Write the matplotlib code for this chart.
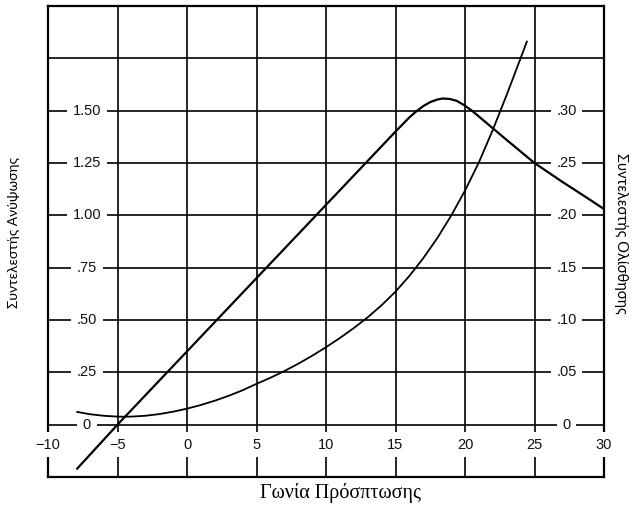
import matplotlib
matplotlib.use("Agg")
import matplotlib.pyplot as plt

# Συντελεστής ανύψωσης (αριστερός άξονας) συναρτήσει της γωνίας πρόσπτωσης
lift_angle = [-7.9, -5.0, 0.0, 5.0, 10.0, 15.0, 16.0, 16.5, 17.0, 17.5, 18.0, 18.4,
              18.9, 19.4, 19.9, 20.5, 21.0, 21.5, 22.0, 23.0, 24.0, 25.0, 26.0,
              27.0, 28.0, 29.0, 30.0]
lift_coef = [-0.21, 0.0, 0.35, 0.70, 1.05, 1.40, 1.468, 1.497, 1.522, 1.541, 1.553,
             1.558, 1.556, 1.547, 1.528, 1.50, 1.472, 1.444, 1.416, 1.36, 1.305,
             1.25, 1.205, 1.16, 1.117, 1.074, 1.03]

# Συντελεστής ολίσθησης (δεξιός άξονας)
drag_angle = [-7.9, -7.0, -6.0, -5.0, -4.5, -4.0, -3.0, -2.0, -1.0, 0.0, 1.0, 2.0,
              3.0, 4.0, 5.0, 6.0, 7.0, 8.0, 9.0, 10.0, 11.0, 12.0, 13.0, 14.0,
              15.0, 16.0, 17.0, 18.0, 19.0, 20.0, 21.0, 22.0, 23.0, 24.0, 24.45]
drag_coef = [0.0122, 0.0100, 0.0085, 0.0077, 0.0076, 0.0077, 0.0085, 0.0101,
             0.0124, 0.0153, 0.0188, 0.0229, 0.0276, 0.0329, 0.0390, 0.0448,
             0.0512, 0.0582, 0.0658, 0.0740, 0.0828, 0.0923, 0.1026, 0.1141,
             0.1271, 0.1421, 0.1591, 0.1781, 0.1996, 0.2236, 0.2506, 0.2816,
             0.3151, 0.3501, 0.3660]

x_ticks = [-10, -5, 0, 5, 10, 15, 20, 25, 30]
lift_ticks = [0.0, 0.25, 0.50, 0.75, 1.00, 1.25, 1.50]
lift_tick_labels = ["0", ".25", ".50", ".75", "1.00", "1.25", "1.50"]
drag_ticks = [0.0, 0.05, 0.10, 0.15, 0.20, 0.25, 0.30]
drag_tick_labels = ["0", ".05", ".10", ".15", ".20", ".25", ".30"]

fig = plt.figure(figsize=(6.38, 5.08), dpi=100)
ax = fig.add_axes([48 / 638, 1 - 477 / 508, 556 / 638, 471 / 508])
ax.set_xlim(-10, 30)
ax.set_ylim(-0.25, 2.0)

ax2 = ax.twinx()
ax2.set_ylim(-0.05, 0.40)
ax2.set_yticks([])
for s in ax2.spines.values():
    s.set_visible(False)

# πλέγμα
for x in x_ticks:
    ax.axvline(x, color="black", lw=1.2, zorder=1)
for y in [0.0, 0.25, 0.5, 0.75, 1.0, 1.25, 1.5, 1.75]:
    ax.axhline(y, color="black", lw=1.2, zorder=1)

ax.set_xticks([])
ax.set_yticks([])
for s in ax.spines.values():
    s.set_linewidth(1.6)
    s.set_zorder(2)

tick_font = dict(family="Liberation Sans", fontsize=10.5, color="#111111",
                 ha="center", va="center", zorder=3, clip_on=False,
                 bbox=dict(facecolor="white", edgecolor="none", pad=4))

for x in x_ticks:
    ax.text(x, -0.096, f"{x}".replace("-", "\u2212"), **tick_font)
for y, lab in zip(lift_ticks, lift_tick_labels):
    ax.text(-7.2, y, lab, **tick_font)
# ετικέτες δεξιού άξονα: μπαίνουν στο ax ώστε οι καμπύλες να περνούν από πάνω
for y, lab in zip(drag_ticks, drag_tick_labels):
    ax.text(27.3, y, lab, transform=ax2.transData, **tick_font)

ax.plot(lift_angle, lift_coef, color="black", lw=1.6, zorder=4)
ax.plot(drag_angle, drag_coef, color="black", lw=1.3, zorder=4,
        transform=ax2.transData)

fig.text(14 / 638, 1 - 232 / 508, "Συντελεστής Ανύψωσης", rotation=90,
         ha="center", va="center", family="Lato", fontsize=10)
fig.text(621 / 638, 1 - 233 / 508, "Συντελεστής Ολίσθησης", rotation=270,
         ha="center", va="center", family="Lato", fontsize=10.5)
fig.text(340 / 638, 1 - 493 / 508, "Γωνία Πρόσπτωσης",
         ha="center", va="center", family="Liberation Serif", fontsize=14.5)

fig.savefig("out.png", dpi=100, facecolor="white")
